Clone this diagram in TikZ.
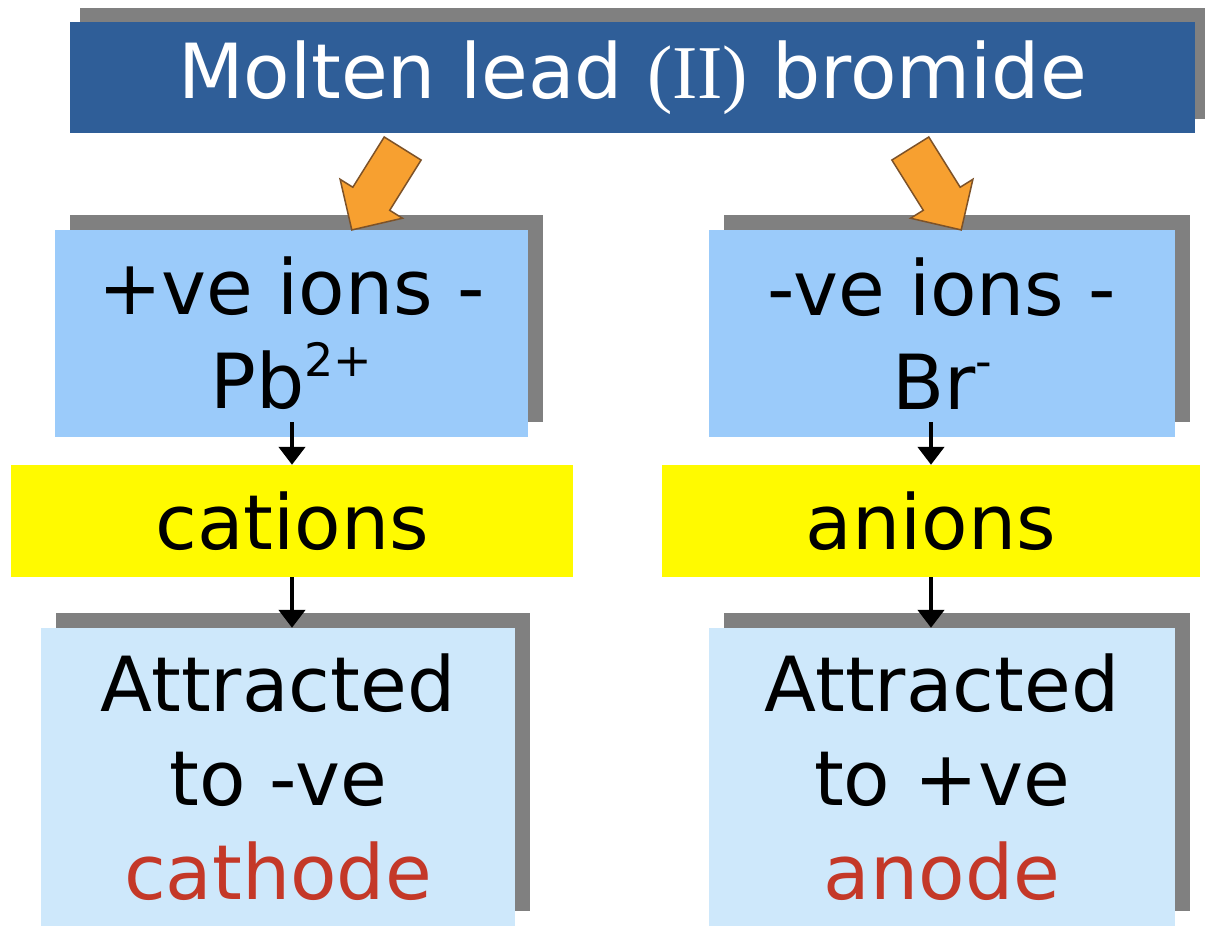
\documentclass[tikz,border=0pt]{standalone}
\usepackage{fontspec}
\setmainfont{DejaVu Sans}
\newfontfamily\romanfont{Liberation Serif}
\usetikzlibrary{shadows,shapes.arrows,arrows.meta}

\definecolor{titleblue}{RGB}{47,94,152}
\definecolor{shadowgrey}{RGB}{128,128,128}
\definecolor{ionblue}{RGB}{155,203,250}
\definecolor{paleblue}{RGB}{206,232,251}
\definecolor{tagyellow}{RGB}{255,250,0}
\definecolor{blockorange}{RGB}{247,160,48}
\definecolor{blockedge}{RGB}{125,82,40}
\definecolor{electrode}{RGB}{196,56,40}

\newcommand{\charge}[1]{\raisebox{0.42em}{\fontsize{46}{46}\selectfont #1}}

\begin{document}
\begin{tikzpicture}[x=1pt, y=-1pt, font=\fontsize{76}{94}\selectfont]
    \tikzset{ion box/.style={rectangle, inner sep=0pt, align=center,
                 general shadow={fill=shadowgrey, shadow xshift=15pt, shadow yshift=15pt}},
             tag box/.style={rectangle, inner sep=0pt, fill=tagyellow, minimum height=112pt},
             down arrow/.style={line width=4.5pt, -{Triangle[width=26pt, length=18pt]}},
             block arrow/.style={single arrow, fill=blockorange, draw=blockedge, line width=1.5pt,
                 inner xsep=0pt, inner ysep=21pt, single arrow head extend=15pt, minimum height=96pt}}

    \useasboundingbox (0,0) rectangle (1211,926);

    % Title banner
    \node[rectangle, inner sep=0pt, fill=titleblue, text=white, minimum width=1125pt, minimum height=111pt,
          general shadow={fill=shadowgrey, shadow xshift=10pt, shadow yshift=14pt}]
          (title) at (632.5,77.5) {Molten lead {\romanfont(II)} bromide};

    % Ion boxes
    \node[ion box, fill=ionblue, minimum width=473pt, minimum height=207pt] (ionp) at (291.5,333.5)
          {+ve ions -\\Pb\charge{2+}};
    \node[ion box, fill=ionblue, minimum width=466pt, minimum height=207pt] (ionn) at (942,333.5)
          {-ve ions -\\Br\charge{-}};

    % Yellow name tags
    \node[tag box, minimum width=562pt] (cat) at (292,521) {cations};
    \node[tag box, minimum width=538pt] (ani) at (931,521) {anions};

    % Electrode boxes
    \node[ion box, fill=paleblue, minimum width=474pt, minimum height=298pt] (catd) at (278,777)
          {Attracted\\to -ve\\\textcolor{electrode}{cathode}};
    \node[ion box, fill=paleblue, minimum width=466pt, minimum height=298pt] (anod) at (942,777)
          {Attracted\\to +ve\\\textcolor{electrode}{anode}};

    % Black arrows down the columns
    \draw[down arrow] ([yshift=15pt]ionp.south -| cat.north) -- (cat.north);
    \draw[down arrow] (cat.south) -- (cat.south |- catd.north);
    \draw[down arrow] ([yshift=15pt]ionn.south -| ani.north) -- (ani.north);
    \draw[down arrow] (ani.south) -- (ani.south |- anod.north);

    % Orange block arrows from the banner
    \node[block arrow, rotate=-122] (splitl) at (383,180) {};
    \node[block arrow, rotate=-58] (splitr) at (930,180) {};

\end{tikzpicture}
\end{document}
